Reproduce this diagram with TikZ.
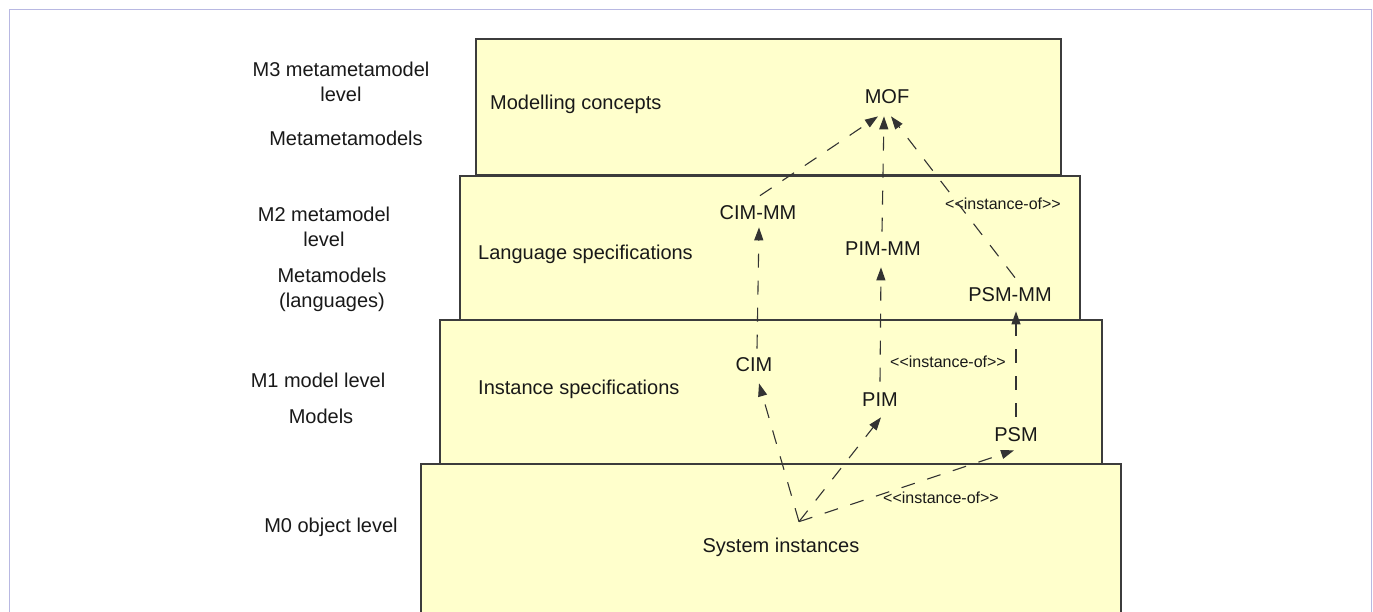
\documentclass[tikz,border=0pt]{standalone}
\usepackage{fontspec}
\setmainfont{Liberation Sans}
\usetikzlibrary{arrows.meta,calc}
\definecolor{boxfill}{RGB}{255,255,204}
\definecolor{boxline}{RGB}{60,60,60}
\definecolor{framecol}{RGB}{184,184,226}
\definecolor{txt}{RGB}{25,25,25}
\begin{document}
\begin{tikzpicture}[x=1pt,y=-1pt,
  levelbox/.style={fill=boxfill,draw=boxline,line width=1.5pt},
  lbl/.style={font=\fontsize{20}{24}\selectfont, text=txt, inner sep=0pt, text height=14.3pt, text depth=0pt},
  side/.style={font=\fontsize{20}{25}\selectfont, text=txt, inner sep=0pt, align=center, anchor=north},
  stereo/.style={font=\fontsize{16}{19}\selectfont, text=txt, inner sep=0pt, text height=11.5pt, text depth=0pt},
  dep/.style={draw=black!80, line width=1.1pt, dash pattern=on 14pt off 13pt, -{Triangle[length=13pt,width=9pt]}}]
\useasboundingbox (0,0) rectangle (1373,611);
\clip (0,0) rectangle (1373,611);
\fill[white] (0,0) rectangle (1373,611);
\draw[framecol, line width=1pt] (9,615) -- (9,9) -- (1371,9) -- (1371,615);
% level boxes
\draw[levelbox] (421,464) rectangle (1121,625);
\draw[levelbox] (440,320) rectangle (1102,464);
\draw[levelbox] (460,176) rectangle (1080,320);
\draw[levelbox] (476,39) rectangle (1061,175);
% side labels
\node[side] (m3a) at (341,62) {M3 metametamodel\\level};
\node[lbl] (m3b) at (346,138) {Metametamodels};
\node[side] (m2a) at (324,207) {M2 metamodel\\level};
\node[side] (m2b) at (332,268) {Metamodels\\(languages)};
\node[lbl] (m1a) at (318,380) {M1 model level};
\node[lbl] (m1b) at (321,416) {Models};
\node[lbl] (m0a) at (331,525) {M0 object level};
% inner labels
\node[lbl,anchor=west] (mc) at (490,102) {Modelling concepts};
\node[lbl,anchor=west] (ls) at (478,252) {Language specifications};
\node[lbl,anchor=west] (is) at (478,387) {Instance specifications};
\node[lbl] (mof) at (887,96) {MOF};
\node[lbl] (cimmm) at (758,212) {CIM-MM};
\node[lbl] (pimmm) at (883,248) {PIM-MM};
\node[lbl] (psmmm) at (1010,294) {PSM-MM};
\node[lbl] (cim) at (754,364) {CIM};
\node[lbl] (pim) at (880,399) {PIM};
\node[lbl] (psm) at (1016,434) {PSM};
\node[lbl] (sys) at (781,545) {System instances};
\node[stereo] (io2) at (1003,204) {{<}{<}instance-of{>}{>}};
\node[stereo] (io1) at (948,362) {{<}{<}instance-of{>}{>}};
\node[stereo] (io0) at (941,498) {{<}{<}instance-of{>}{>}};
% connectors
\coordinate (sysp) at ([xshift=18pt,yshift=16pt]sys.north);
\draw[dep] ([xshift=2pt,yshift=9pt]cimmm.north) -- ([xshift=-9pt,yshift=-13pt]mof.south);
\draw[dep] ([xshift=-1pt,yshift=9pt]pimmm.north) -- ([xshift=-3pt,yshift=-13pt]mof.south);
\draw[dep] ([xshift=5pt,yshift=9pt]psmmm.north) -- ([xshift=4pt,yshift=-13pt]mof.south);
\draw[dep] ([xshift=3pt,yshift=8pt]cim.north) -- ([xshift=1pt,yshift=-8pt]cimmm.south);
\draw[dep] ([yshift=10pt]pim.north) -- ([xshift=-2pt,yshift=-12pt]pimmm.south);
\draw[dep] ([yshift=10pt]psm.north) -- ([xshift=6pt,yshift=-10pt]psmmm.south);
\draw[dep] (sysp) -- ([xshift=5pt,yshift=-12pt]cim.south);
\draw[dep] (sysp) -- ([xshift=1pt,yshift=-11pt]pim.south);
\draw[dep] (sysp) -- ([xshift=-2pt,yshift=-9pt]psm.south);
\end{tikzpicture}
\end{document}
